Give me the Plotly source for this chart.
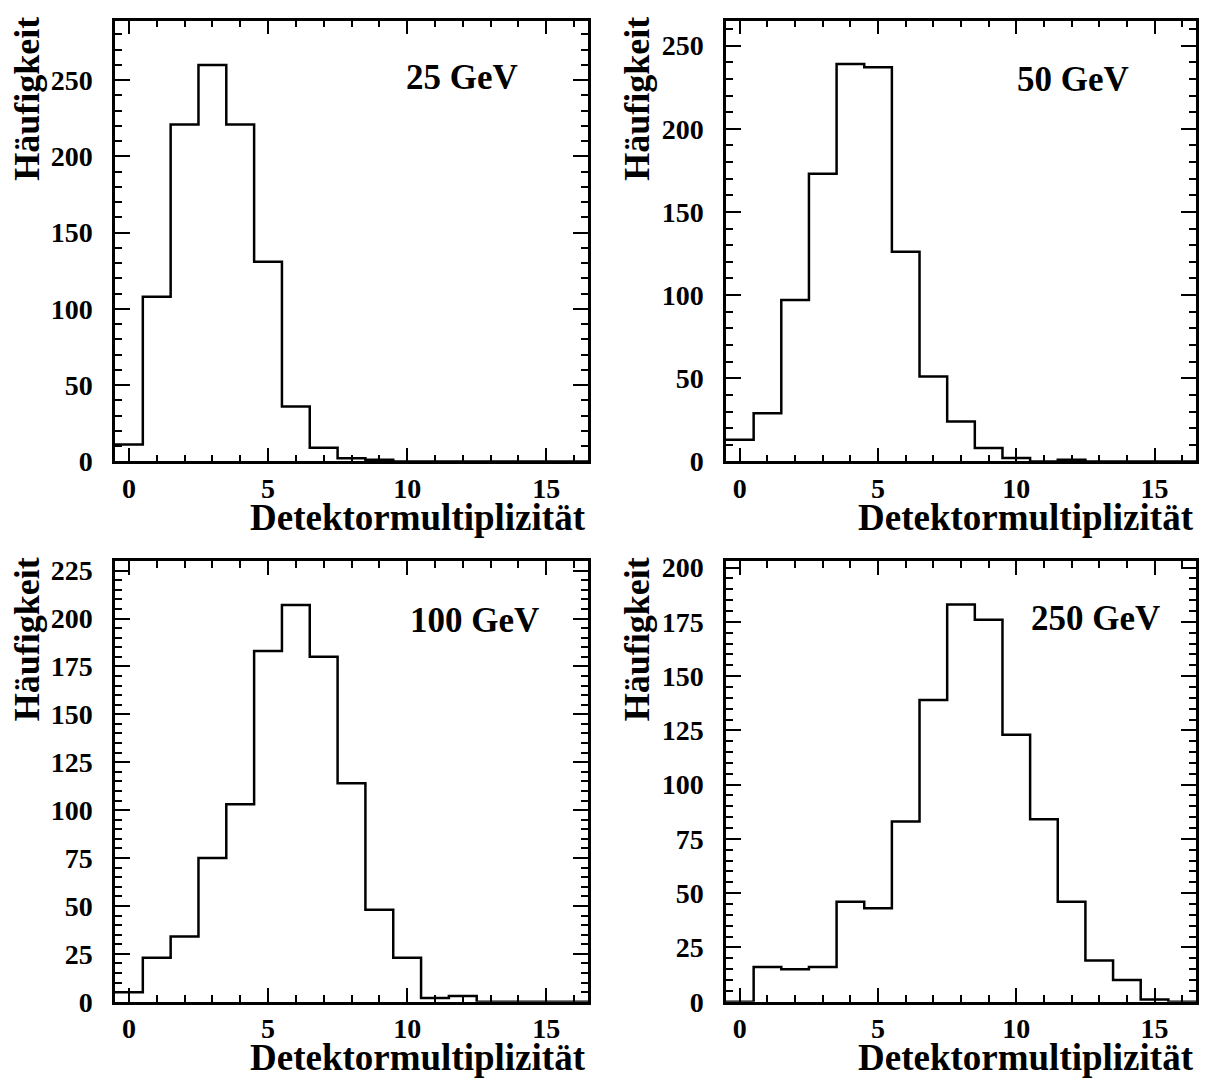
import plotly.graph_objects as go

# ---- data ----
multiplicity = list(range(17))
counts_25 = [11, 108, 221, 260, 221, 131, 36, 9, 2, 1, 0, 0, 0, 0, 0, 0, 0]
counts_50 = [13, 29, 97, 173, 239, 237, 126, 51, 24, 8, 2, 0, 1, 0, 0, 0, 0]
counts_100 = [5, 23, 34, 75, 103, 183, 207, 180, 114, 48, 23, 2, 3, 0, 0, 0, 0]
counts_250 = [0, 16, 15, 16, 46, 43, 83, 139, 183, 176, 123, 84, 46, 19, 10, 1, 0]
energy_labels = ["25 GeV", "50 GeV", "100 GeV", "250 GeV"]
x_tick_values = [0, 5, 10, 15]
y_max = [289, 265, 230, 203]
y_dtick = [50, 50, 25, 25]
y_minor = [10, 10, 5, 5]
x_title = "Detektormultiplizität"
y_title = "Häufigkeit"

all_counts = [counts_25, counts_50, counts_100, counts_250]

# ---- layout geometry (pixels) ----
W, H = 1208, 1091
frames = [(115, 588, 12, 463), (726, 1196, 12, 463),
          (115, 588, 565, 1016), (726, 1196, 565, 1016)]
ytitle_x = [27, 637, 27, 637]
label_pos = [(462, 70), (1073, 72), (474, 626), (1095, 624)]

FONT = "Liberation Serif"

fig = go.Figure()
layout = dict(width=W, height=H, margin=dict(l=0, r=0, t=0, b=0),
              paper_bgcolor="white", plot_bgcolor="white", showlegend=False)
annotations = []

for i, counts in enumerate(all_counts):
    n = "" if i == 0 else str(i + 1)
    x0, x1, y0, y1 = frames[i]
    edges = [c - 0.5 for c in multiplicity] + [multiplicity[-1] + 0.5]
    yvals = counts + [counts[-1]]
    fig.add_trace(go.Scatter(x=edges, y=yvals, mode="lines", line_shape="hv",
                             line=dict(color="black", width=2.5),
                             xaxis="x" + n, yaxis="y" + n, hoverinfo="skip"))
    layout["xaxis" + n] = dict(
        domain=[x0 / W, x1 / W], anchor="y" + n, range=[-0.5, 16.5],
        tickmode="array", tickvals=x_tick_values, ticks="inside", ticklen=14,
        tickwidth=1.5, tickcolor="black", showline=True, linecolor="black",
        linewidth=2.5, mirror="allticks", showgrid=False, zeroline=False,
        tickfont=dict(family=FONT, size=28, color="black", weight="bold"),
        ticklabelstandoff=0,
        minor=dict(ticks="inside", ticklen=7, dtick=1, tick0=0,
                   tickwidth=1.5, tickcolor="black", showgrid=False))
    layout["yaxis" + n] = dict(
        domain=[1 - y1 / H, 1 - y0 / H], anchor="x" + n, range=[0, y_max[i]],
        dtick=y_dtick[i], tick0=0, ticks="inside", ticklen=15,
        tickwidth=1.5, tickcolor="black", showline=True, linecolor="black",
        linewidth=2.5, mirror="allticks", showgrid=False, zeroline=False,
        tickfont=dict(family=FONT, size=28, color="black", weight="bold"),
        ticklabelstandoff=14,
        minor=dict(ticks="inside", ticklen=7, dtick=y_minor[i], tick0=0,
                   tickwidth=1.5, tickcolor="black", showgrid=False))
    # x title (right aligned under the frame)
    annotations.append(dict(text="<b>" + x_title + "</b>", xref="paper", yref="paper",
                            x=x1 / W, y=1 - (y1 + 34) / H, xanchor="right", yanchor="top",
                            showarrow=False,
                            font=dict(family=FONT, size=37, color="black")))
    # y title (rotated, top aligned)
    annotations.append(dict(text="<b>" + y_title + "</b>", xref="paper", yref="paper",
                            x=ytitle_x[i] / W, y=1 - (y0 - 6) / H, xanchor="center",
                            yanchor="top", textangle=-90, showarrow=False,
                            font=dict(family=FONT, size=36, color="black")))
    # energy label
    lx, ly = label_pos[i]
    annotations.append(dict(text="<b>" + energy_labels[i] + "</b>", xref="paper",
                            yref="paper", x=lx / W, y=1 - ly / H, xanchor="center",
                            yanchor="middle", showarrow=False,
                            font=dict(family=FONT, size=35, color="black")))

layout["annotations"] = annotations
fig.update_layout(**layout)
fig.write_html("out.html")
